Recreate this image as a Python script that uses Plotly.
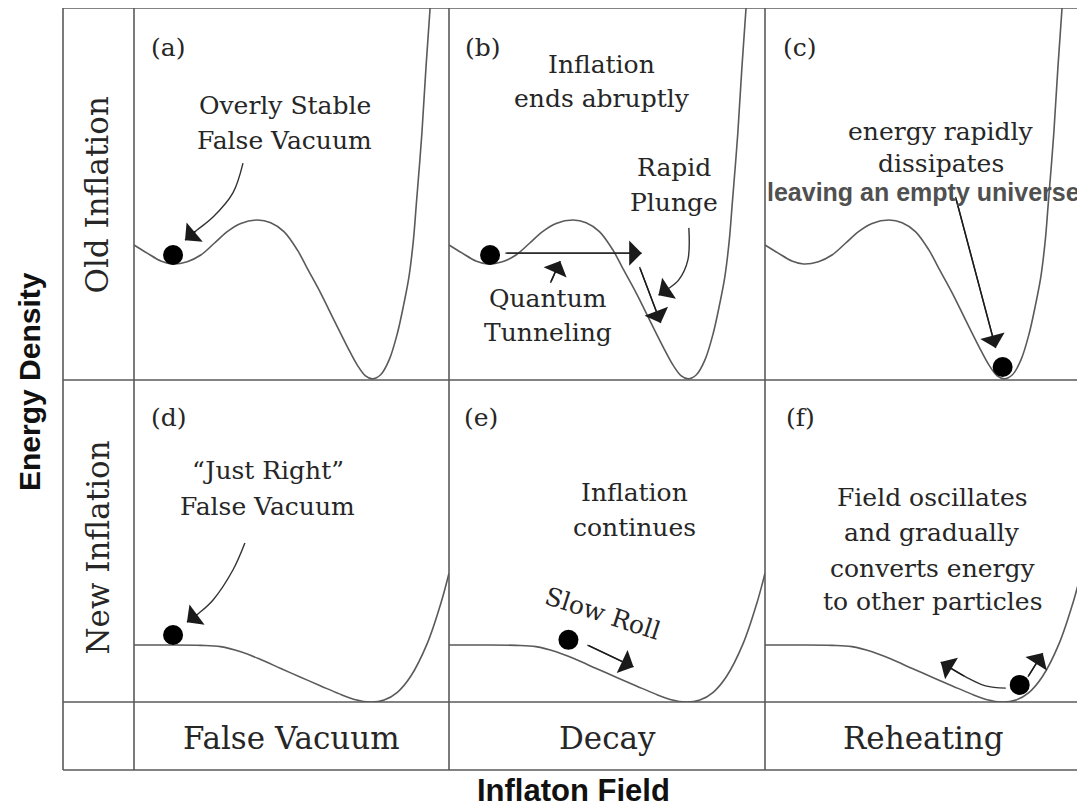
import plotly.graph_objects as go

# ---------------- data ----------------
# potential curves in panel units: field 0..1 across a panel, energy 0..1 bottom..top
old_field = [0.0, 0.042, 0.085, 0.122, 0.169, 0.212, 0.254, 0.296, 0.339, 0.392,
             0.434, 0.476, 0.519, 0.550, 0.593, 0.635, 0.677, 0.709, 0.735, 0.757,
             0.783, 0.810, 0.836, 0.857, 0.873, 0.887, 0.896, 0.914, 0.927, 0.940, 0.952]
old_energy = [0.363, 0.341, 0.320, 0.312, 0.318, 0.336, 0.367, 0.399, 0.421, 0.430,
              0.423, 0.399, 0.349, 0.300, 0.233, 0.161, 0.090, 0.040, 0.011, 0.003,
              0.014, 0.054, 0.125, 0.206, 0.278, 0.376, 0.470, 0.664, 0.841, 1.0, 1.15]

new_field = [0.0, 0.106, 0.212, 0.275, 0.339, 0.402, 0.466, 0.529, 0.593, 0.650,
             0.700, 0.751, 0.794, 0.836, 0.878, 0.931, 0.974, 1.0]
new_energy = [0.177, 0.177, 0.176, 0.172, 0.156, 0.132, 0.104, 0.077, 0.050, 0.026,
              0.008, 0.0, 0.006, 0.030, 0.079, 0.182, 0.306, 0.40]

panels = ["a", "b", "c", "d", "e", "f"]
panel_rows = ["old", "old", "old", "new", "new", "new"]

# ball (field value, energy) per panel
ball_field = [0.124, 0.130, 0.752, 0.124, 0.378, 0.806]
ball_energy = [0.336, 0.336, 0.035, 0.208, 0.193, 0.053]

row_labels = ["Old Inflation", "New Inflation"]
col_labels = ["False Vacuum", "Decay", "Reheating"]
x_title = "Inflaton Field"
y_title = "Energy Density"

# text notes: (panel, lines, field centre, energy centre of each line)
notes = [
    ("a", ["(a)"], 0.108, [0.895]),
    ("a", ["Overly Stable", "False Vacuum"], 0.479, [0.739, 0.645]),
    ("b", ["(b)"], 0.108, [0.895]),
    ("b", ["Inflation", "ends abruptly"], 0.483, [0.847, 0.758]),
    ("b", ["Rapid", "Plunge"], 0.711, [0.570, 0.476]),
    ("b", ["Quantum", "Tunneling"], 0.312, [0.220, 0.129]),
    ("c", ["(c)"], 0.111, [0.895]),
    ("c", ["energy rapidly", "dissipates"], 0.556, [0.667, 0.583]),
    ("d", ["(d)"], 0.111, [0.885]),
    ("d", ["\u201cJust Right\u201d", "False Vacuum"], 0.425, [0.720, 0.606]),
    ("e", ["(e)"], 0.102, [0.885]),
    ("e", ["Inflation", "continues"], 0.586, [0.652, 0.543]),
    ("f", ["(f)"], 0.111, [0.885]),
    ("f", ["Field oscillates", "and gradually", "converts energy", "to other particles"],
     0.530, [0.634, 0.525, 0.416, 0.311]),
]
overlay_note = ("c", "leaving an empty universe", 0.502, 0.505)
slow_roll_note = ("e", "Slow Roll", 0.486, 0.275, 18)

# arrows: (panel, path field values, path energy values) -- last point is the tip
arrows = [
    ("a", [0.346, 0.314, 0.251, 0.200, 0.162], [0.583, 0.503, 0.438, 0.403, 0.376]),
    ("b", [0.178, 0.610], [0.341, 0.341]),
    ("b", [0.321, 0.352], [0.261, 0.320]),
    ("b", [0.603, 0.670], [0.304, 0.153]),
    ("b", [0.759, 0.756, 0.727, 0.690, 0.663], [0.409, 0.323, 0.269, 0.243, 0.228]),
    ("c", [0.603, 0.730], [0.492, 0.086]),
    ("d", [0.352, 0.314, 0.251, 0.205, 0.168], [0.494, 0.410, 0.317, 0.275, 0.248]),
    ("e", [0.438, 0.584], [0.177, 0.109]),
    ("f", [0.762, 0.698, 0.635, 0.556], [0.043, 0.050, 0.078, 0.124]),
    ("f", [0.832, 0.879], [0.078, 0.152]),
]

# ---------------- layout (pixel geometry of the grid) ----------------
W, H = 1085, 806
OFF = 8  # page body margin
V_LINES = [63, 134, 449, 765, 1081]
H_LINES = [8, 380, 702, 770]
COL_BOUNDS = [(134, 449), (449, 765), (765, 1081)]
ROW_BOUNDS = [(8, 380), (380, 702)]

SERIF = "DejaVu Serif"
SANS = "Liberation Sans"
INK = "#262626"
LINE = "#5a5a5a"


def px_x(p):
    return (p - OFF) / W


def px_y(p):
    return 1 - (p - OFF) / H


fig = go.Figure()
layout_axes = {}
axis_of = {}
for i, name in enumerate(panels):
    r, c = divmod(i, 3)
    k = i + 1
    xa = "xaxis" if k == 1 else f"xaxis{k}"
    ya = "yaxis" if k == 1 else f"yaxis{k}"
    xr = "x" if k == 1 else f"x{k}"
    yr = "y" if k == 1 else f"y{k}"
    axis_of[name] = (xr, yr)
    x0, x1 = COL_BOUNDS[c]
    y0, y1 = ROW_BOUNDS[r]
    layout_axes[xa] = dict(domain=[px_x(x0), px_x(x1)], range=[0, 1], visible=False,
                           fixedrange=True, anchor=yr)
    layout_axes[ya] = dict(domain=[px_y(y1), px_y(y0)], range=[0, 1], visible=False,
                           fixedrange=True, anchor=xr)

# potential curves
for name, row in zip(panels, panel_rows):
    xr, yr = axis_of[name]
    fx, fy = (old_field, old_energy) if row == "old" else (new_field, new_energy)
    fig.add_trace(go.Scatter(x=fx, y=fy, mode="lines", xaxis=xr, yaxis=yr,
                             line=dict(color=LINE, width=1.6, shape="spline", smoothing=1.0),
                             hoverinfo="skip", showlegend=False))

annotations = []

# arrows
for name, ax_vals, ay_vals in arrows:
    xr, yr = axis_of[name]
    fig.add_trace(go.Scatter(x=ax_vals, y=ay_vals, mode="lines", xaxis=xr, yaxis=yr,
                             line=dict(color="#333333", width=1.4, shape="spline"),
                             hoverinfo="skip", showlegend=False))
    annotations.append(dict(x=ax_vals[-1], y=ay_vals[-1], ax=ax_vals[-2], ay=ay_vals[-2],
                            xref=xr, yref=yr, axref=xr, ayref=yr, text="",
                            showarrow=True, arrowhead=1, arrowsize=3.0, arrowwidth=1.4,
                            arrowcolor="#1a1a1a", standoff=0))

# balls
for name, bx, by in zip(panels, ball_field, ball_energy):
    xr, yr = axis_of[name]
    fig.add_trace(go.Scatter(x=[bx], y=[by], mode="markers", xaxis=xr, yaxis=yr,
                             marker=dict(color="black", size=20, line=dict(width=0)),
                             hoverinfo="skip", showlegend=False, cliponaxis=False))

# notes
for name, lines, fx, ys in notes:
    xr, yr = axis_of[name]
    for line_txt, yy in zip(lines, ys):
        annotations.append(dict(x=fx, y=yy, xref=xr, yref=yr, text=line_txt, showarrow=False,
                                font=dict(family=SERIF, size=25, color=INK),
                                xanchor="center", yanchor="middle"))

name, txt, fx, fy = overlay_note
xr, yr = axis_of[name]
annotations.append(dict(x=fx, y=fy, xref=xr, yref=yr, text=f"<b>{txt}</b>", showarrow=False,
                        font=dict(family=SANS, size=25, color="#505050"),
                        xanchor="center", yanchor="middle"))

name, txt, fx, fy, ang = slow_roll_note
xr, yr = axis_of[name]
annotations.append(dict(x=fx, y=fy, xref=xr, yref=yr, text=txt, showarrow=False,
                        textangle=ang, font=dict(family=SERIF, size=25, color=INK),
                        xanchor="center", yanchor="middle"))

# row labels (rotated) in the label column
for lab, (y0, y1) in zip(row_labels, [(98, 293), (442, 653)]):
    annotations.append(dict(x=px_x(97), y=px_y((y0 + y1) / 2), xref="paper", yref="paper",
                            text=lab, showarrow=False, textangle=-90,
                            font=dict(family=SERIF, size=31, color=INK),
                            xanchor="center", yanchor="middle"))

# column labels in the bottom row
for lab, (x0, x1) in zip(col_labels, COL_BOUNDS):
    annotations.append(dict(x=px_x((x0 + x1) / 2), y=px_y(738), xref="paper", yref="paper",
                            text=lab, showarrow=False,
                            font=dict(family=SERIF, size=31, color=INK),
                            xanchor="center", yanchor="middle"))

# axis titles
annotations.append(dict(x=px_x(29), y=px_y(382), xref="paper", yref="paper",
                        text=f"<b>{y_title}</b>", showarrow=False, textangle=-90,
                        font=dict(family=SANS, size=30, color="#111111"),
                        xanchor="center", yanchor="middle"))
annotations.append(dict(x=px_x(573), y=px_y(790), xref="paper", yref="paper",
                        text=f"<b>{x_title}</b>", showarrow=False,
                        font=dict(family=SANS, size=31, color="#111111"),
                        xanchor="center", yanchor="middle"))

# grid frame
shapes = []
for vx in V_LINES:
    shapes.append(dict(type="line", xref="paper", yref="paper",
                       x0=px_x(vx), x1=px_x(vx), y0=px_y(H_LINES[0]), y1=px_y(H_LINES[-1]),
                       line=dict(color=LINE, width=1.6)))
for hy in H_LINES:
    shapes.append(dict(type="line", xref="paper", yref="paper",
                       x0=px_x(V_LINES[0]), x1=px_x(V_LINES[-1]), y0=px_y(hy), y1=px_y(hy),
                       line=dict(color=LINE, width=1.6)))

fig.update_layout(
    width=W, height=H,
    margin=dict(l=0, r=0, t=0, b=0),
    paper_bgcolor="white", plot_bgcolor="white",
    showlegend=False,
    annotations=annotations,
    shapes=shapes,
    **layout_axes,
)

fig.write_html("out.html")
